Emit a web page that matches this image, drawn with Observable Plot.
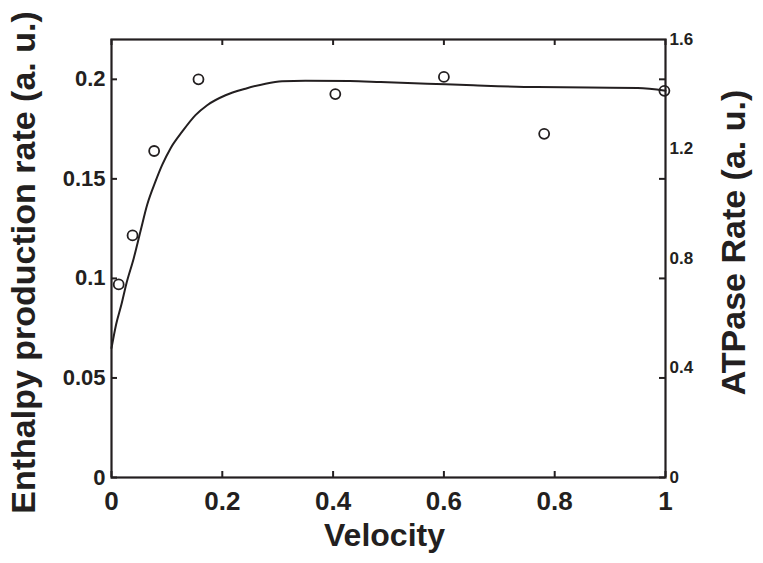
<!DOCTYPE html>
<html>
<head>
<meta charset="utf-8">
<script src="https://cdn.jsdelivr.net/npm/d3@7"></script>
<script src="https://cdn.jsdelivr.net/npm/@observablehq/plot@0.6"></script>
<style>
  html, body { margin: 0; padding: 0; background: #fff; }
</style>
</head>
<body>
<div id="chart"></div>
<script>
// Measured data (circles)
const pointVelocity = [0.013, 0.038, 0.077, 0.157, 0.404, 0.600, 0.781, 0.998];
const pointEnthalpy = [0.0970, 0.1216, 0.1640, 0.2000, 0.1926, 0.2012, 0.1726, 0.1942];

// Fitted curve
const curveVelocity = [0, 0.0084, 0.018, 0.0265, 0.0403, 0.0523, 0.0644, 0.0794, 0.0915, 0.1065, 0.1276, 0.1516, 0.1727, 0.2058, 0.2419, 0.278, 0.308, 0.35, 0.43, 0.486, 0.57, 0.653, 0.768, 0.9, 0.95, 1.0];
const curveEnthalpy = [0.0650, 0.0770, 0.0870, 0.0970, 0.1103, 0.1237, 0.1370, 0.1487, 0.1570, 0.1653, 0.1737, 0.1820, 0.1870, 0.1920, 0.1953, 0.1978, 0.1990, 0.1993, 0.1991, 0.1986, 0.1978, 0.1970, 0.1961, 0.1958, 0.1957, 0.1943];

// Axes
const xTicks = [0, 0.2, 0.4, 0.6, 0.8, 1];
const yTicksLeft = [0, 0.05, 0.1, 0.15, 0.2];
const yTicksRight = [0, 0.4, 0.8, 1.2, 1.6];
const yLeftMax = 0.22;
const yRightMax = 1.6;
const xLabel = "Velocity";
const yLabelLeft = "Enthalpy production rate (a. u.)";
const yLabelRight = "ATPase Rate (a. u.)";

const points = pointVelocity.map((v, i) => ({v, e: pointEnthalpy[i]}));
const curve = curveVelocity.map((v, i) => ({v, e: curveEnthalpy[i]}));
const k = yLeftMax / yRightMax;

const W = 763, H = 563, mL = 111, mR = 98, mT = 39, mB = 86;
const plotW = W - mL - mR, plotH = H - mT - mB;
const tickLen = 6;
const ink = "#231f20";

const chart = Plot.plot({
  width: W,
  height: H,
  marginLeft: mL,
  marginRight: mR,
  marginTop: mT,
  marginBottom: mB,
  style: {fontFamily: "'Liberation Sans', Arial, Helvetica, sans-serif", background: "#fff", color: ink},
  x: {domain: [0, 1]},
  y: {domain: [0, yLeftMax]},
  marks: [
    Plot.axisX(xTicks, {tickSize: 0, tickPadding: 14, fontSize: 26, fontWeight: "bold", tickFormat: d => String(d), label: null}),
    Plot.axisY(yTicksLeft, {tickSize: 0, tickPadding: 6, fontSize: 22, fontWeight: "bold", tickFormat: d => String(d), label: null}),
    Plot.axisY(yTicksRight.map(v => v * k), {anchor: "right", tickSize: 0, tickPadding: 4, fontSize: 17, fontWeight: "bold", tickFormat: d => String(Math.round(d / k * 10) / 10), label: null}),
    // inward ticks (MATLAB style)
    Plot.tickX(xTicks, {x: d => d, insetTop: plotH - tickLen, stroke: ink, strokeWidth: 2}),
    Plot.tickX(xTicks, {x: d => d, insetBottom: plotH - tickLen, stroke: ink, strokeWidth: 2}),
    Plot.tickY(yTicksLeft, {y: d => d, insetRight: plotW - tickLen, stroke: ink, strokeWidth: 2}),
    Plot.tickY(yTicksLeft, {y: d => d, insetLeft: plotW - tickLen, stroke: ink, strokeWidth: 2}),
    Plot.frame({stroke: ink, strokeWidth: 2.2}),
    Plot.line(curve, {x: "v", y: "e", curve: "monotone-x", stroke: ink, strokeWidth: 2}),
    Plot.dot(points, {x: "v", y: "e", r: 5, stroke: ink, strokeWidth: 1.8, fill: "none"}),
    Plot.text([xLabel], {text: d => d, frameAnchor: "bottom", textAnchor: "middle", lineAnchor: "middle", dy: 58, dx: -4, fontSize: 32, fontWeight: "bold", fill: ink}),
    Plot.text([yLabelLeft], {text: d => d, frameAnchor: "left", textAnchor: "middle", lineAnchor: "middle", rotate: -90, dx: -87, dy: 4, fontSize: 34, fontWeight: "bold", fill: ink}),
    Plot.text([yLabelRight], {text: d => d, frameAnchor: "right", textAnchor: "middle", lineAnchor: "middle", rotate: -90, dx: 69, dy: -16, fontSize: 34, fontWeight: "bold", fill: ink})
  ]
});
document.getElementById("chart").appendChild(chart);
</script>
</body>
</html>
